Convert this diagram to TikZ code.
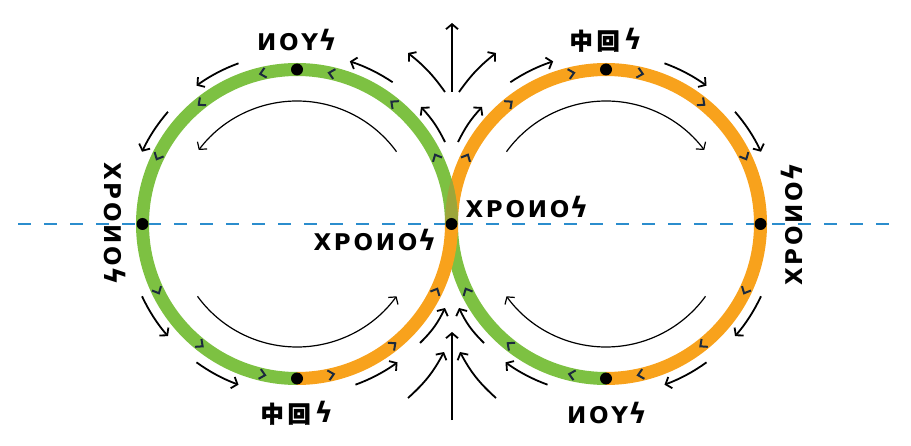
\documentclass[tikz,border=0pt]{standalone}
\usepackage{fontspec}
\usepackage{graphicx}
\usetikzlibrary{arrows.meta,calc}
\newfontfamily\gk{DejaVu Sans}[LetterSpace=12]
\newfontfamily\cjk{Noto Sans CJK SC}[FakeBold=2]
\newcommand\sgm{\scalebox{1.25}[1.22]{ϟ}}
\definecolor{ringgreen}{HTML}{7DC142}
\definecolor{ringorange}{HTML}{F8A21C}
\definecolor{olivemix}{HTML}{9DA63A}
\definecolor{chev}{HTML}{1C2A3E}
\definecolor{axisblue}{HTML}{2B8DCD}
\begin{document}
\begin{tikzpicture}[x=1pt,y=1pt,
  ring/.style={line width=13pt},
  chevmark/.style={draw=chev, line width=2pt, line join=miter},
  flow/.style={line width=1.8pt, -{Straight Barb[length=5pt,width=12pt]}},
  innerflow/.style={line width=1.2pt, -{Straight Barb[length=5pt,width=12pt]}},
  dot/.style={circle, fill=black, inner sep=0pt, minimum size=12pt},
  word/.style={font=\gk\bfseries\fontsize{23}{23}\selectfont, inner sep=0pt, text=black},
]
\useasboundingbox (0,0) rectangle (911,445);
\def\rr{154.5}
\coordinate (L) at (297,221);
\coordinate (R) at (606,221);
\coordinate (axA) at (18,221);
\coordinate (axB) at (892,221);

% axis
\draw[axisblue, line width=1.8pt, dash pattern=on 13pt off 13pt] (axA) -- (axB);

% right ring (drawn first)
\draw[ring, ringorange] ($(R)+(-90:\rr)$) arc[start angle=-90, end angle=180, radius=\rr];
\draw[ring, ringgreen] ($(R)+(180:\rr)$) arc[start angle=180, end angle=270, radius=\rr];
% left ring
\draw[ring, ringgreen] ($(L)+(0:\rr)$) arc[start angle=0, end angle=270, radius=\rr];
\draw[ring, ringorange] ($(L)+(270:\rr)$) arc[start angle=270, end angle=360, radius=\rr];
% overlap of upper halves
\begin{scope}
  \clip (380,221) rectangle (520,300);
  \begin{scope}[even odd rule]
    \clip (L) circle[radius=\rr+6.5] (L) circle[radius=\rr-6.5];
    \draw[ring, olivemix] (R) circle[radius=\rr];
  \end{scope}
\end{scope}

% chevrons
\foreach \j in {1,...,6,8,9,...,13}{
  \begin{scope}[shift={(L)}, rotate=\j*360/14]
    \draw[chevmark] (\rr-5,-3) -- (\rr,2.5) -- (\rr+5,-3);
  \end{scope}
  \begin{scope}[shift={(R)}, rotate=\j*360/14]
    \draw[chevmark] (\rr-5,3) -- (\rr,-2.5) -- (\rr+5,3);
  \end{scope}
}

% dots
\node[dot] (lt) at ($(L)+(90:\rr)$) {};
\node[dot] (ll) at ($(L)+(180:\rr)$) {};
\node[dot] (lb) at ($(L)+(270:\rr)$) {};
\node[dot] (cx) at ($(L)+(0:\rr)$) {};
\node[dot] (rt) at ($(R)+(90:\rr)$) {};
\node[dot] (rr) at ($(R)+(0:\rr)$) {};
\node[dot] (rb) at ($(R)+(270:\rr)$) {};

% inner arcs
\draw[innerflow] ($(L)+(36:123)$) arc[start angle=36, end angle=143, radius=123];
\draw[innerflow] ($(L)+(216:123)$) arc[start angle=216, end angle=324, radius=123];
\draw[innerflow] ($(R)+(144:123)$) arc[start angle=144, end angle=37, radius=123];
\draw[innerflow] ($(R)+(324:123)$) arc[start angle=324, end angle=216, radius=123];

% outer arcs, left (counter-clockwise)
\foreach \a/\b in {56/72,110/126,139/155,205/221,234/250,290/306}{
  \draw[flow] ($(L)+(\a:171)$) arc[start angle=\a, end angle=\b, radius=171];
}
% outer arcs, right (clockwise)
\foreach \a/\b in {124/108,70/54,41/25,-25/-41,-54/-70,-110/-126}{
  \draw[flow] ($(R)+(\a:171)$) arc[start angle=\a, end angle=\b, radius=171];
}

% top fan (diverging)
\coordinate (tf1) at (445,353); \coordinate (tf1h) at (408,392);
\coordinate (tf2) at (452,353); \coordinate (tf2h) at (452,422);
\coordinate (tf3) at (459,353); \coordinate (tf3h) at (496,392);
\coordinate (ts1) at (445,303); \coordinate (ts1h) at (421,338);
\coordinate (ts2) at (458,303); \coordinate (ts2h) at (482,338);
\draw[flow] (tf1) to[bend right=8] (tf1h);
\draw[flow] (tf2) -- (tf2h);
\draw[flow] (tf3) to[bend left=8] (tf3h);
\draw[flow] (ts1) to[bend right=8] (ts1h);
\draw[flow] (ts2) to[bend left=8] (ts2h);

% bottom fan (converging)
\coordinate (bf1) at (408,47); \coordinate (bf1h) at (444,93);
\coordinate (bf2) at (452,25); \coordinate (bf2h) at (452,113);
\coordinate (bf3) at (496,47); \coordinate (bf3h) at (460,93);
\coordinate (bs1) at (420,102); \coordinate (bs1h) at (445,137);
\coordinate (bs2) at (484,102); \coordinate (bs2h) at (459,137);
\draw[flow] (bf1) to[bend right=10] (bf1h);
\draw[flow] (bf2) -- (bf2h);
\draw[flow] (bf3) to[bend left=10] (bf3h);
\draw[flow] (bs1) to[bend right=10] (bs1h);
\draw[flow] (bs2) to[bend left=10] (bs2h);

% words
\node[word] (nousT) at (297,405) {ͶΟΥ\sgm};
\node[word] (fosT) at (606,405) {{\cjk 中\,回}\,\sgm};
\node[word] (fosB) at (297,32) {{\cjk 中\,回}\,\sgm};
\node[word] (nousB) at (607,32) {ͶΟΥ\sgm};
\node[word, rotate=-90] (chrL) at (115,221) {ΧΡΟͶΟ\sgm};
\node[word, rotate=90] (chrR) at (792,221) {ΧΡΟͶΟ\sgm};
\node[word] (chrU) at (527,238) {ΧΡΟͶΟ\sgm};
\node[word] (chrD) at (375,205) {ΧΡΟͶΟ\sgm};
\end{tikzpicture}
\end{document}
